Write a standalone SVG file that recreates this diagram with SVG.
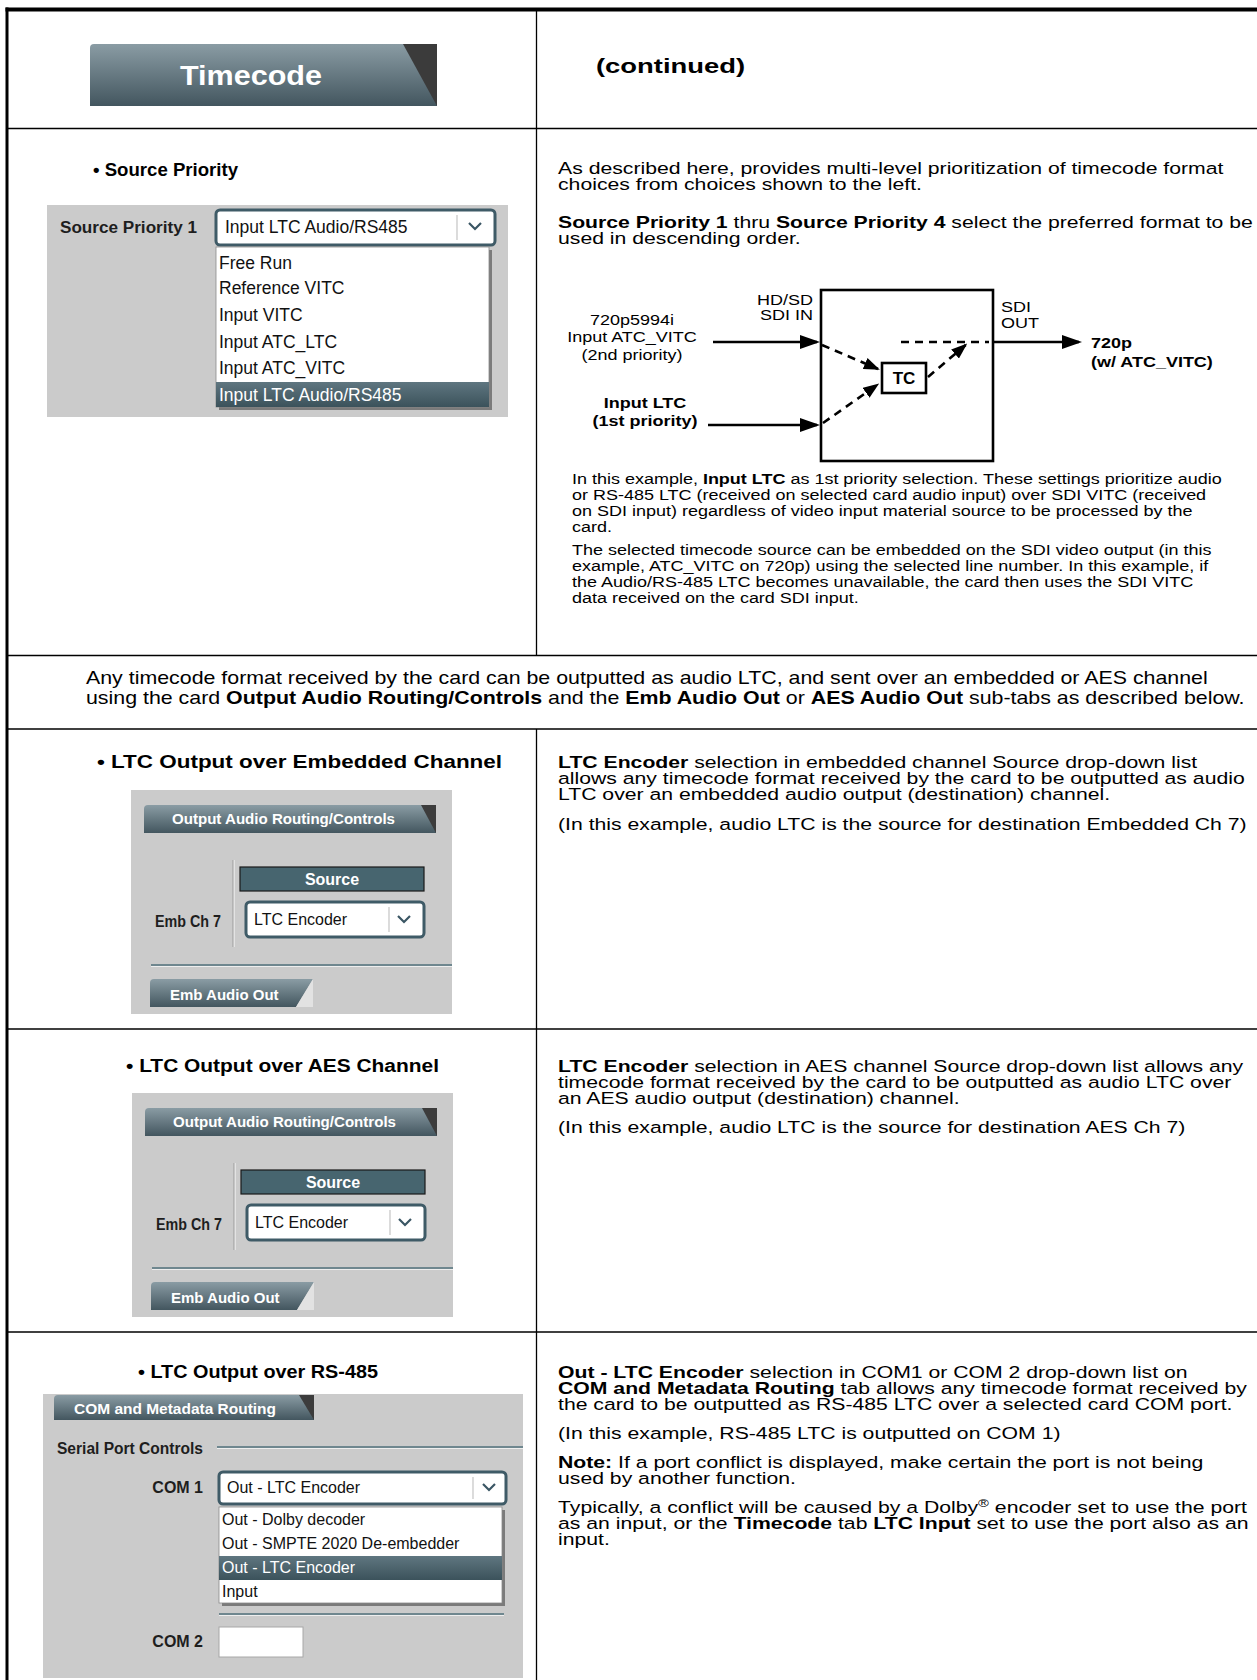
<svg xmlns="http://www.w3.org/2000/svg" width="1257" height="1680" viewBox="0 0 1257 1680">
<style>
text{font-family:"Liberation Sans",Arial,Helvetica,sans-serif;fill:#000}
.body{font-size:16.5px}
.note{font-size:18px}
.small{font-size:15px}
.h{font-size:17.5px;font-weight:bold}
.b{font-weight:bold}
.dg{font-size:15px}
.ui{font-size:17.5px;fill:#111}
.uis{font-size:16px;fill:#111}
.uib{font-size:16px;font-weight:bold;fill:#1e1e1e}
.tabt{font-weight:bold;fill:#fff}
.wt{fill:#fff}
.frame line{stroke:#000}
.panel{fill:#cbcbcb}
.dd{fill:#fff;stroke:#3f5b67;stroke-width:3}
.chev{fill:none;stroke:#3a5664;stroke-width:2.2}
.ddiv{stroke:#c4c4c4;stroke-width:1.2}
.list{fill:#fff;stroke:#8a8a8a;stroke-width:0.8}
.shadow{fill:#3a3a3a;opacity:0.55}
.conn{stroke:#000;stroke-width:2.6;fill:none}
.dash{stroke-dasharray:8 6}
.box{fill:none;stroke:#000;stroke-width:2.6}
.sep{stroke:#50707b;stroke-width:1.4}
.sepl{stroke:#eeeeee;stroke-width:1}
</style>
<defs>
<linearGradient id="tabg" x1="0" y1="0" x2="0" y2="1">
<stop offset="0" stop-color="#8a9ca4"/>
<stop offset="1" stop-color="#43565f"/>
</linearGradient>
<linearGradient id="hlg" x1="0" y1="0" x2="0" y2="1">
<stop offset="0" stop-color="#5f7680"/>
<stop offset="1" stop-color="#3b525b"/>
</linearGradient>
<marker id="ah" viewBox="0 0 20 14" refX="17" refY="7" markerWidth="20" markerHeight="14" markerUnits="userSpaceOnUse" orient="auto"><path d="M0,0 L20,7 L0,14 z" fill="#000"/></marker>
<marker id="ahd" viewBox="0 0 16 12" refX="14" refY="6" markerWidth="16" markerHeight="12" markerUnits="userSpaceOnUse" orient="auto"><path d="M0,0 L16,6 L0,12 z" fill="#000"/></marker>
<g id="audioPanel">
<rect class="panel" x="131" y="790" width="321" height="224"/>
<path d="M144,833 L144,809 Q144,805 148,805 L436,805 L436,833 Z" fill="url(#tabg)"/>
<path d="M421,805 L436,805 L436,833 Z" fill="#3c3c3c"/>
<text class="tabt" x="172" y="823.5" font-size="15.5" textLength="223" lengthAdjust="spacingAndGlyphs">Output Audio Routing/Controls</text>
<line x1="233" y1="860" x2="233" y2="947" stroke="#9a9a9a" stroke-width="1"/>
<line x1="234.2" y1="860" x2="234.2" y2="947" class="sepl"/>
<rect x="240" y="867" width="184" height="24" fill="#47656f" stroke="#1a1a1a" stroke-width="1.2"/>
<text class="tabt" x="332" y="884.5" font-size="16" text-anchor="middle">Source</text>
<rect class="dd" x="246" y="902" width="178" height="35" rx="4"/>
<text class="uis" x="254" y="925">LTC Encoder</text>
<line class="ddiv" x1="389" y1="907" x2="389" y2="932"/>
<polyline class="chev" points="398,916 404,922 410,916"/>
<text class="uib" x="155" y="927" font-size="15" textLength="66" lengthAdjust="spacingAndGlyphs">Emb Ch 7</text>
<line class="sep" x1="151" y1="965" x2="452" y2="965"/>
<line class="sepl" x1="151" y1="966.5" x2="452" y2="966.5"/>
<path d="M150,1007 L150,983 Q150,979 154,979 L313,979 L296,1007 Z" fill="url(#tabg)"/>
<path d="M296,1007 L313,979 L313,1007 Z" fill="#e2e2e2"/>
<text class="tabt" x="170" y="999.5" font-size="15">Emb Audio Out</text>
</g>
</defs>

<g id="frame" class="frame">
<line x1="5.5" y1="9.5" x2="1257" y2="9.5" stroke-width="4"/>
<line x1="7" y1="7.5" x2="7" y2="1680" stroke-width="3"/>
<line x1="7" y1="128.5" x2="1257" y2="128.5" stroke-width="1.5"/>
<line x1="7" y1="655.5" x2="1257" y2="655.5" stroke-width="1.5"/>
<line x1="7" y1="729" x2="1257" y2="729" stroke-width="1.5"/>
<line x1="7" y1="1029" x2="1257" y2="1029" stroke-width="1.5"/>
<line x1="7" y1="1332" x2="1257" y2="1332" stroke-width="1.5"/>
<line x1="536.5" y1="9.5" x2="536.5" y2="655.5" stroke-width="1.3"/>
<line x1="536.5" y1="729" x2="536.5" y2="1680" stroke-width="1.3"/>
</g>

<g id="tab-timecode">
<path d="M90,106 L90,48 Q90,44 94,44 L437,44 L437,106 Z" fill="url(#tabg)"/>
<path d="M403,44 L437,44 L437,106 Z" fill="#3b3b3b"/>
<text class="tabt" x="180" y="84.5" font-size="27" textLength="142" lengthAdjust="spacingAndGlyphs">Timecode</text>
</g>
<g id="continued">
<text class="b" x="596" y="73" font-size="21" textLength="149" lengthAdjust="spacingAndGlyphs">(continued)</text>
</g>

<g id="source-priority">
<text class="h" x="93" y="175.5" textLength="145" lengthAdjust="spacingAndGlyphs">• Source Priority</text>
<rect class="panel" x="47" y="205" width="461" height="212"/>
<text class="uib" x="60" y="233" font-size="17" textLength="137" lengthAdjust="spacingAndGlyphs">Source Priority 1</text>
<rect class="dd" x="216" y="210" width="279" height="35" rx="4"/>
<text class="ui" x="225" y="233">Input LTC Audio/RS485</text>
<line class="ddiv" x1="457" y1="215" x2="457" y2="240"/>
<polyline class="chev" points="469,223 475,229 481,223"/>
<rect class="shadow" x="219" y="250" width="273" height="160"/>
<rect class="list" x="216" y="247" width="273" height="160"/>
<text class="ui" x="219" y="268.5">Free Run</text>
<text class="ui" x="219" y="294">Reference VITC</text>
<text class="ui" x="219" y="321">Input VITC</text>
<text class="ui" x="219" y="347.5">Input ATC_LTC</text>
<text class="ui" x="219" y="374">Input ATC_VITC</text>
<rect x="216" y="382" width="273" height="25" fill="url(#hlg)"/>
<text class="ui wt" x="219" y="401">Input LTC Audio/RS485</text>
</g>

<g id="source-priority-text" transform="matrix(1.285 0 0 1 -159 0)">
<text class="body" x="558" y="174.5">As described here, provides multi-level prioritization of timecode format</text>
<text class="body" x="558" y="190.5">choices from choices shown to the left.</text>
<text class="body" x="558" y="228"><tspan class="b">Source Priority 1</tspan> thru <tspan class="b">Source Priority 4</tspan> select the preferred format to be</text>
<text class="body" x="558" y="244">used in descending order.</text>
</g>

<g id="diagram-labels">
<text class="dg" x="813" y="305.5" text-anchor="end" transform="matrix(1.2 0 0 1 -162.6 0)">HD/SD</text>
<text class="dg" x="813" y="320.5" text-anchor="end" transform="matrix(1.2 0 0 1 -162.6 0)">SDI IN</text>
<text class="dg" x="632" y="324.7" text-anchor="middle" transform="matrix(1.2 0 0 1 -126.4 0)">720p5994i</text>
<text class="dg" x="632" y="342" text-anchor="middle" transform="matrix(1.2 0 0 1 -126.4 0)">Input ATC_VITC</text>
<text class="dg" x="632" y="360" text-anchor="middle" transform="matrix(1.2 0 0 1 -126.4 0)">(2nd priority)</text>
<text class="dg" x="1001" y="312" transform="matrix(1.2 0 0 1 -200.2 0)">SDI</text>
<text class="dg" x="1001" y="328" transform="matrix(1.2 0 0 1 -200.2 0)">OUT</text>
<text class="dg b" x="1091" y="348.5" transform="matrix(1.2 0 0 1 -218.2 0)">720p</text>
<text class="dg b" x="1091" y="366.5" transform="matrix(1.2 0 0 1 -218.2 0)">(w/ ATC_VITC)</text>
<text class="dg b" x="645" y="408.5" text-anchor="middle" transform="matrix(1.2 0 0 1 -129 0)">Input LTC</text>
<text class="dg b" x="645" y="426.5" text-anchor="middle" transform="matrix(1.2 0 0 1 -129 0)">(1st priority)</text>
</g>
<g id="card-box">
<rect class="box" x="821" y="290" width="172" height="171"/>
</g>
<g id="tc-box">
<rect class="box" x="882" y="363" width="44" height="30" fill="#fff"/>
<text class="b" x="904" y="384" font-size="17" text-anchor="middle">TC</text>
</g>
<g id="connectors">
<path class="conn" d="M713,342 H817" marker-end="url(#ah)"/>
<path class="conn" d="M708,425 H817" marker-end="url(#ah)"/>
<path class="conn" d="M993,342 H1079" marker-end="url(#ah)"/>
<path class="conn dash" d="M901,342 H989"/>
<path class="conn dash" d="M822,345 L878,369" marker-end="url(#ahd)"/>
<path class="conn dash" d="M823,423 L877.5,384.7" marker-end="url(#ahd)"/>
<path class="conn dash" d="M928,377 L965.7,344.9" marker-end="url(#ahd)"/>
</g>

<g id="example-text" transform="matrix(1.2 0 0 1 -114.4 0)">
<text class="small" x="572" y="484.5">In this example, <tspan class="b">Input LTC</tspan> as 1st priority selection. These settings prioritize audio</text>
<text class="small" x="572" y="500.5">or RS-485 LTC (received on selected card audio input) over SDI VITC (received</text>
<text class="small" x="572" y="516.5">on SDI input) regardless of video input material source to be processed by the</text>
<text class="small" x="572" y="532.5">card.</text>
<text class="small" x="572" y="555.5">The selected timecode source can be embedded on the SDI video output (in this</text>
<text class="small" x="572" y="571.5">example, ATC_VITC on 720p) using the selected line number. In this example, if</text>
<text class="small" x="572" y="587.5">the Audio/RS-485 LTC becomes unavailable, the card then uses the SDI VITC</text>
<text class="small" x="572" y="603.5">data received on the card SDI input.</text>
</g>

<g id="output-note" transform="matrix(1.187 0 0 1 -16.1 0)">
<text class="note" x="86" y="684">Any timecode format received by the card can be outputted as audio LTC, and sent over an embedded or AES channel</text>
<text class="note" x="86" y="704.5">using the card <tspan class="b">Output Audio Routing/Controls</tspan> and the <tspan class="b">Emb Audio Out</tspan> or <tspan class="b">AES Audio Out</tspan> sub-tabs as described below.</text>
</g>

<g id="ltc-embedded">
<text class="h" x="97" y="768" textLength="405" lengthAdjust="spacingAndGlyphs">• LTC Output over Embedded Channel</text>
<use href="#audioPanel"/>
<g transform="matrix(1.285 0 0 1 -159 0)">
<text class="body" x="558" y="768.5"><tspan class="b">LTC Encoder</tspan> selection in embedded channel Source drop-down list</text>
<text class="body" x="558" y="784.5">allows any timecode format received by the card to be outputted as audio</text>
<text class="body" x="558" y="800.5">LTC over an embedded audio output (destination) channel.</text>
<text class="body" x="558" y="830.5">(In this example, audio LTC is the source for destination Embedded Ch 7)</text>
</g>
</g>

<g id="ltc-aes">
<text class="h" x="126" y="1072" textLength="313" lengthAdjust="spacingAndGlyphs">• LTC Output over AES Channel</text>
<use href="#audioPanel" transform="translate(1,303)"/>
<g transform="matrix(1.285 0 0 1 -159 0)">
<text class="body" x="558" y="1072">
<tspan class="b">LTC Encoder</tspan> selection in AES channel Source drop-down list allows any</text>
<text class="body" x="558" y="1088">timecode format received by the card to be outputted as audio LTC over</text>
<text class="body" x="558" y="1104">an AES audio output (destination) channel.</text>
<text class="body" x="558" y="1133.5">(In this example, audio LTC is the source for destination AES Ch 7)</text>
</g>
</g>

<g id="ltc-rs485">
<text class="h" x="138" y="1378" textLength="240" lengthAdjust="spacingAndGlyphs">• LTC Output over RS-485</text>
<rect class="panel" x="43" y="1394" width="480" height="284"/>
<path d="M54,1420 L54,1399 Q54,1395 58,1395 L314,1395 L314,1420 Z" fill="url(#tabg)"/>
<path d="M299,1395 L314,1395 L314,1420 Z" fill="#3c3c3c"/>
<text class="tabt" x="74" y="1413.5" font-size="15.5" textLength="202" lengthAdjust="spacingAndGlyphs">COM and Metadata Routing</text>
<text class="uib" x="57" y="1454" textLength="146" lengthAdjust="spacingAndGlyphs">Serial Port Controls</text>
<line class="sep" x1="217" y1="1447" x2="523" y2="1447"/>
<line class="sepl" x1="217" y1="1448.5" x2="523" y2="1448.5"/>
<text class="uib" x="203" y="1493" text-anchor="end" font-size="15.5">COM 1</text>
<rect class="dd" x="219" y="1472" width="287" height="32" rx="4"/>
<text class="uis" x="227" y="1493">Out - LTC Encoder</text>
<line class="ddiv" x1="473" y1="1477" x2="473" y2="1499"/>
<polyline class="chev" points="483,1484 489,1490 495,1484"/>
<rect class="shadow" x="222" y="1510" width="283" height="96"/>
<rect class="list" x="219" y="1507" width="283" height="96"/>
<text class="uis" x="222" y="1525">Out - Dolby decoder</text>
<text class="uis" x="222" y="1549">Out - SMPTE 2020 De-embedder</text>
<rect x="219" y="1556" width="283" height="24" fill="url(#hlg)"/>
<text class="uis wt" x="222" y="1573">Out - LTC Encoder</text>
<text class="uis" x="222" y="1597">Input</text>
<line class="sep" x1="219" y1="1614" x2="504" y2="1614"/>
<line class="sepl" x1="219" y1="1615.5" x2="504" y2="1615.5"/>
<text class="uib" x="203" y="1647" text-anchor="end" font-size="15.5">COM 2</text>
<rect x="219" y="1627" width="84" height="30" fill="#fff" stroke="#a8a8a8" stroke-width="1"/>
<g transform="matrix(1.285 0 0 1 -159 0)">
<text class="body" x="558" y="1378"><tspan class="b">Out - LTC Encoder</tspan> selection in COM1 or COM 2 drop-down list on</text>
<text class="body" x="558" y="1394"><tspan class="b">COM and Metadata Routing</tspan> tab allows any timecode format received by</text>
<text class="body" x="558" y="1410">the card to be outputted as RS-485 LTC over a selected card COM port.</text>
<text class="body" x="558" y="1439.5">(In this example, RS-485 LTC is outputted on COM 1)</text>
<text class="body" x="558" y="1468.5"><tspan class="b">Note:</tspan> If a port conflict is displayed, make certain the port is not being</text>
<text class="body" x="558" y="1484.5">used by another function.</text>
<text class="body" x="558" y="1513">Typically, a conflict will be caused by a Dolby<tspan font-size="11.5" dy="-6">®</tspan><tspan dy="6"> encoder set to use the port</tspan></text>
<text class="body" x="558" y="1529">as an input, or the <tspan class="b">Timecode</tspan> tab <tspan class="b">LTC Input</tspan> set to use the port also as an</text>
<text class="body" x="558" y="1545">input.</text>
</g>
</g>
</svg>
